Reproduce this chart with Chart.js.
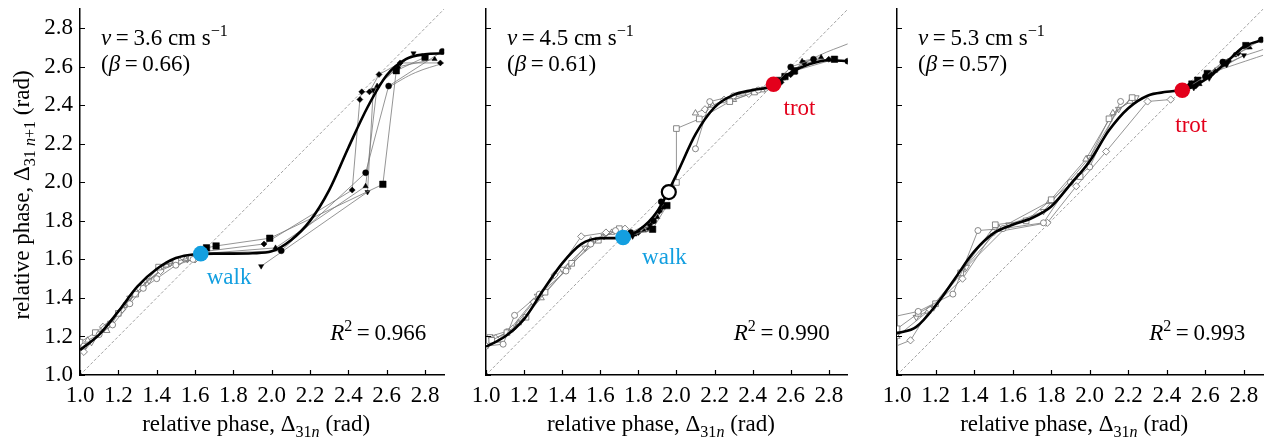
<!DOCTYPE html>
<html>
<head>
<meta charset="utf-8">
<script src="https://cdn.jsdelivr.net/npm/chart.js@4.4.1/dist/chart.umd.min.js"></script>
<style>
  html, body { margin: 0; padding: 0; background: #fff; }
  #wrap { position: relative; width: 1271px; height: 445px; overflow: hidden; }
  #wrap canvas { position: absolute; top: 0; }
</style>
</head>
<body>
<div id="wrap">
  <canvas id="p0" width="452" height="445" style="left:0"></canvas>
  <canvas id="p1" width="405" height="445" style="left:452px"></canvas>
  <canvas id="p2" width="414" height="445" style="left:857px"></canvas>
</div>
<script>
// ---- data ----
const TICKS  = [1.0, 1.2, 1.4, 1.6, 1.8, 2.0, 2.2, 2.4, 2.6, 2.8];
const SPEEDS = ['3.6', '4.5', '5.3'];
const BETAS  = ['0.66', '0.61', '0.57'];
const R2     = ['0.966', '0.990', '0.993'];

// fitted return map (thick black curve)
const FIT_1 = [[1.0,1.13],[1.1,1.21],[1.2,1.33],[1.3,1.46],[1.4,1.55],[1.5,1.607],[1.6,1.627],[1.7,1.63],[1.8,1.63],[1.9,1.632],
               [2.0,1.642],[2.1,1.70],[2.2,1.80],[2.3,1.96],[2.4,2.18],[2.5,2.39],[2.6,2.556],[2.7,2.64],[2.8,2.665],[2.9,2.67]];
const FIT_2 = [[1.0,1.147],[1.1,1.20],[1.2,1.29],[1.3,1.44],[1.4,1.58],[1.5,1.68],[1.6,1.71],[1.7,1.712],[1.8,1.75],[1.9,1.85],
               [2.0,2.04],[2.1,2.25],[2.2,2.39],[2.3,2.455],[2.4,2.48],[2.5,2.50],[2.6,2.57],[2.7,2.615],[2.8,2.635],[2.9,2.63]];
const FIT_3 = [[1.0,1.216],[1.1,1.25],[1.2,1.36],[1.3,1.50],[1.4,1.64],[1.5,1.735],[1.6,1.78],[1.7,1.815],[1.8,1.875],[1.9,1.99],
               [2.0,2.11],[2.1,2.27],[2.2,2.385],[2.3,2.45],[2.4,2.47],[2.5,2.485],[2.6,2.535],[2.7,2.615],[2.8,2.705],[2.9,2.74]];

// measured cycles, open symbols (circle, square, diamond, triangle, inverted triangle, repeating)
const OPEN_1 = [
  [[1.02,1.15],[1.10,1.21],[1.17,1.26],[1.26,1.37],[1.33,1.45],[1.40,1.50],[1.50,1.57],[1.59,1.60]],
  [[1.00,1.17],[1.08,1.22],[1.20,1.32],[1.29,1.42],[1.41,1.56],[1.50,1.59],[1.58,1.61]],
  [[1.02,1.12],[1.12,1.25],[1.22,1.34],[1.31,1.45],[1.42,1.54],[1.52,1.59],[1.60,1.60]],
  [[1.04,1.18],[1.14,1.23],[1.23,1.36],[1.33,1.47],[1.45,1.57],[1.55,1.60]],
  [[1.06,1.17],[1.16,1.27],[1.26,1.40],[1.36,1.49],[1.47,1.58],[1.56,1.60]]
];
const FILL_1 = [
  [[1.63,1.63],[2.05,1.645],[2.49,2.05],[2.61,2.50],[2.89,2.68]],
  [[1.66,1.66],[1.71,1.67],[1.99,1.71],[2.58,1.99],[2.65,2.58],[2.80,2.65]],
  [[1.64,1.64],[1.96,1.68],[2.42,1.96],[2.46,2.43],[2.47,2.47],[2.51,2.47],[2.56,2.56],[2.67,2.62],[2.88,2.62]],
  [[1.64,1.63],[2.02,1.66],[2.49,1.98],[2.55,2.50],[2.66,2.60],[2.85,2.64]],
  [[1.945,1.565],[2.50,1.95],[2.53,2.48],[2.74,2.67]]
];
const EXTRA_1 = [[[2.62,2.50],[2.75,2.57],[2.90,2.62]]];

const OPEN_2 = [
  [[1.00,1.15],[1.09,1.16],[1.15,1.31],[1.28,1.42],[1.42,1.54],[1.55,1.68],[1.68,1.75]],
  [[1.03,1.18],[1.11,1.22],[1.21,1.30],[1.31,1.43],[1.45,1.58],[1.59,1.70],[1.70,1.76]],
  [[1.05,1.19],[1.14,1.24],[1.25,1.38],[1.36,1.52],[1.50,1.72],[1.63,1.74],[1.73,1.76]],
  [[1.06,1.18],[1.17,1.27],[1.29,1.40],[1.43,1.56],[1.55,1.70],[1.66,1.74]],
  [[1.02,1.20],[1.12,1.23],[1.27,1.41],[1.40,1.55],[1.52,1.66],[1.62,1.72]],
  [[2.10,2.175],[2.175,2.42],[2.30,2.45],[2.43,2.48]],
  [[2.00,2.00],[2.00,2.28],[2.12,2.33],[2.28,2.42],[2.41,2.47],[2.50,2.50]],
  [[2.15,2.38],[2.25,2.43],[2.38,2.46],[2.47,2.49]],
  [[2.10,2.36],[2.19,2.40],[2.30,2.43],[2.45,2.48]]
];
const FILL_2 = [
  [[1.76,1.74],[1.88,1.80],[1.92,1.90]],
  [[1.74,1.72],[1.875,1.757],[1.95,1.88]],
  [[1.80,1.74],[1.86,1.78],[1.91,1.85]],
  [[1.78,1.73],[1.83,1.75],[1.90,1.82],[1.93,1.87]],
  [[1.77,1.72],[1.85,1.76],[1.92,1.86]],
  [[2.53,2.52],[2.60,2.60],[2.72,2.64],[2.90,2.63]],
  [[2.54,2.53],[2.57,2.55],[2.62,2.58],[2.83,2.64]],
  [[2.55,2.52],[2.60,2.56],[2.67,2.62],[2.80,2.64]],
  [[2.56,2.54],[2.62,2.57],[2.66,2.63],[2.76,2.65]]
];
const EXTRA_2 = [[[2.60,2.58],[2.75,2.66],[2.90,2.72]]];

const OPEN_3 = [
  [[0.97,1.30],[1.11,1.33],[1.29,1.42],[1.42,1.75],[1.55,1.76],[1.76,1.79],[1.90,2.00],[2.00,2.08],[2.16,2.42]],
  [[1.00,1.24],[1.11,1.32],[1.20,1.37],[1.33,1.53],[1.51,1.78],[1.67,1.80],[1.80,1.91],[1.95,2.03],[2.10,2.33],[2.22,2.44]],
  [[0.97,1.14],[1.07,1.18],[1.17,1.34],[1.34,1.50],[1.50,1.74],[1.78,1.79],[1.93,1.98],[2.085,2.16],[2.30,2.42],[2.42,2.43]],
  [[1.00,1.20],[1.16,1.33],[1.34,1.545],[1.53,1.76],[1.79,1.90],[1.98,2.12],[2.12,2.36],[2.21,2.42]],
  [[1.10,1.30],[1.19,1.35],[1.36,1.56],[1.58,1.78],[1.76,1.85],[2.00,2.13],[2.15,2.38],[2.24,2.44]]
];
const FILL_3 = [
  [[2.52,2.50],[2.60,2.55],[2.69,2.625],[2.89,2.74]],
  [[2.53,2.51],[2.56,2.53],[2.61,2.565],[2.70,2.62],[2.81,2.71]],
  [[2.55,2.50],[2.63,2.56],[2.72,2.63],[2.77,2.67]],
  [[2.57,2.51],[2.65,2.58],[2.75,2.66],[2.83,2.70]],
  [[2.54,2.49],[2.62,2.54],[2.71,2.61],[2.80,2.66]]
];
const EXTRA_3 = [[[2.62,2.56],[2.76,2.64],[2.90,2.69]], [[2.66,2.58],[2.90,2.66]]];

// fixed points
const WALK   = [[1.63, 1.63], [1.72, 1.714], null];
const TROT   = [null, [2.51, 2.51], [2.48, 2.478]];
const SADDLE = [null, [1.96, 1.95], null];

// ---- style ----
const SERIF = '"Liberation Serif", "Times New Roman", Times, serif';
const FS    = 23;
const BLUE  = '#139fe0';
const RED   = '#e3001b';
const GREY  = '#7a7a7a';

const MARKS = [
  { style: 'circle',   rot: 0,   open: 3.0, fill: 3.0 },
  { style: 'rect',     rot: 0,   open: 4.0, fill: 4.6 },
  { style: 'rectRot',  rot: 0,   open: 3.6, fill: 3.0 },
  { style: 'triangle', rot: 0,   open: 3.6, fill: 3.0 },
  { style: 'triangle', rot: 180, open: 3.6, fill: 3.0 }
];

const XTITLE = [{ t: 'relative phase, \u0394' }, { t: '31', sub: 1 }, { t: 'n', sub: 1, i: 1 }, { t: ' (rad)' }];
const YTITLE = [{ t: 'relative phase, \u0394' }, { t: '31 ', sub: 1 }, { t: 'n', sub: 1, i: 1 }, { t: '+1', sub: 1 }, { t: ' (rad)' }];

const PANELS = [
  { id: 'p0', yW: 80, padR: 3, fit: FIT_1, open: OPEN_1, fill: FILL_1, extra: EXTRA_1,
    labels: [{ text: 'walk', color: BLUE, at: WALK[0], dx: 6, dy: 30 }] },
  { id: 'p1', yW: 34, padR: 4, fit: FIT_2, open: OPEN_2, fill: FILL_2, extra: EXTRA_2,
    labels: [{ text: 'walk', color: BLUE, at: WALK[1], dx: 19, dy: 26 },
             { text: 'trot', color: RED,  at: TROT[1], dx: 10, dy: 31 }] },
  { id: 'p2', yW: 40, padR: 6, fit: FIT_3, open: OPEN_3, fill: FILL_3, extra: EXTRA_3,
    labels: [{ text: 'trot', color: RED, at: TROT[2], dx: -7, dy: 42 }] }
];

// ---- text helpers ----
function fontOf(size, italic) {
  return (italic ? 'italic ' : '') + size + 'px ' + SERIF;
}

function rich(ctx, parts, x, y, align) {
  let w = 0;
  parts.forEach(function (p) {
    ctx.font = fontOf(p.sub || p.sup ? FS * 0.7 : FS, p.i);
    w += ctx.measureText(p.t).width;
  });
  let cx = align === 'center' ? x - w / 2 : align === 'right' ? x - w : x;
  ctx.textAlign = 'left';
  ctx.textBaseline = 'alphabetic';
  parts.forEach(function (p) {
    ctx.font = fontOf(p.sub || p.sup ? FS * 0.7 : FS, p.i);
    const dy = p.sup ? -FS * 0.4 : p.sub ? FS * 0.28 : 0;
    ctx.fillText(p.t, cx, y + dy);
    cx += ctx.measureText(p.t).width;
  });
}

// inward ticks, titles and annotations
const decor = {
  id: 'decor',
  afterDraw(chart, args, o) {
    const ctx = chart.ctx, a = chart.chartArea, x = chart.scales.x, y = chart.scales.y;
    const i = o.index, p = PANELS[i];
    ctx.save();
    ctx.strokeStyle = '#000';
    ctx.lineWidth = 1.2;
    ctx.beginPath();
    TICKS.forEach(function (v) {
      const px = Math.round(x.getPixelForValue(v)) + 0.5;
      const py = Math.round(y.getPixelForValue(v)) + 0.5;
      ctx.moveTo(px, a.bottom); ctx.lineTo(px, a.bottom - 5);
      ctx.moveTo(a.left, py);   ctx.lineTo(a.left + 5, py);
    });
    ctx.stroke();

    ctx.fillStyle = '#000';
    rich(ctx, [{ t: 'v', i: 1 }, { t: '\u2009=\u2009' + SPEEDS[i] + ' cm s' }, { t: '\u22121', sup: 1 }], a.left + 21, 45, 'left');
    rich(ctx, [{ t: '(' }, { t: '\u03b2', i: 1 }, { t: '\u2009=\u2009' + BETAS[i] + ')' }], a.left + 21, 71, 'left');
    rich(ctx, [{ t: 'R', i: 1 }, { t: '2', sup: 1 }, { t: '\u2009=\u2009' + R2[i] }], a.right - 18, 340, 'right');
    rich(ctx, XTITLE, (a.left + a.right) / 2 - 6, 431, 'center');

    p.labels.forEach(function (l) {
      ctx.fillStyle = l.color;
      rich(ctx, [{ t: l.text }], x.getPixelForValue(l.at[0]) + l.dx, y.getPixelForValue(l.at[1]) + l.dy, 'left');
    });

    if (i === 0) {
      ctx.fillStyle = '#000';
      ctx.translate(29, 195);
      ctx.rotate(-Math.PI / 2);
      rich(ctx, YTITLE, 0, 0, 'center');
    }
    ctx.restore();
  }
};

function dot(pt, bg, border, r, bw) {
  return { data: [pt], pointRadius: r, pointBackgroundColor: bg, pointBorderColor: border, pointBorderWidth: bw };
}

function runSet(run, i, filled) {
  const m = MARKS[i % MARKS.length];
  return {
    data: run, showLine: true, borderColor: GREY, borderWidth: 0.8,
    pointStyle: m.style, rotation: m.rot,
    pointRadius: filled ? m.fill : m.open,
    pointBackgroundColor: filled ? '#000' : '#fff',
    pointBorderColor: filled ? '#000' : '#6a6a6a',
    pointBorderWidth: filled ? 0.5 : 0.8
  };
}

function buildDatasets(i) {
  const p = PANELS[i];
  const ds = [];
  if (WALK[i])   ds.push(dot(WALK[i], BLUE, BLUE, 7.8, 0));
  if (TROT[i])   ds.push(dot(TROT[i], RED, RED, 7.8, 0));
  if (SADDLE[i]) ds.push(dot(SADDLE[i], '#fff', '#000', 7, 2.2));
  ds.push({ data: p.fit, showLine: true, borderColor: '#000', borderWidth: 2.6, pointRadius: 0, cubicInterpolationMode: 'monotone' });
  p.fill.forEach(function (run, k) { ds.push(runSet(run, k, true)); });
  p.open.forEach(function (run, k) { ds.push(runSet(run, k, false)); });
  p.extra.forEach(function (run) {
    ds.push({ data: run, showLine: true, borderColor: GREY, borderWidth: 0.8, pointRadius: 0, tension: 0.4 });
  });
  ds.push({ data: [[1, 1], [2.9, 2.9]], showLine: true, borderColor: '#8a8a8a', borderWidth: 0.8, borderDash: [3, 2], pointRadius: 0 });
  return ds;
}

function axis(i, isX) {
  const p = PANELS[i];
  return {
    type: 'linear', min: 1, max: 2.9,
    grid: { display: false, drawTicks: false },
    border: { color: '#000', width: 1.5 },
    ticks: {
      display: isX || i === 0,
      font: { family: SERIF, size: FS }, color: '#000',
      padding: isX ? 7 : 7, autoSkip: false, maxRotation: 0,
      callback: function (v) { return v.toFixed(1); }
    },
    afterBuildTicks: function (s) { s.ticks = TICKS.map(function (v) { return { value: v }; }); },
    afterFit: function (s) {
      if (isX) { s.height = 70; s.paddingLeft = 0; s.paddingRight = 0; }
      else { s.width = p.yW; s.paddingTop = 0; s.paddingBottom = 0; }
    }
  };
}

PANELS.forEach(function (p, i) {
  new Chart(document.getElementById(p.id), {
    type: 'scatter',
    data: { datasets: buildDatasets(i) },
    options: {
      responsive: false, animation: false, events: [],
      layout: { padding: { left: 0, right: p.padR, top: 9, bottom: 0 } },
      plugins: { legend: { display: false }, tooltip: { enabled: false }, decor: { index: i } },
      scales: { x: axis(i, true), y: axis(i, false) }
    },
    plugins: [decor]
  });
});
</script>
</body>
</html>
